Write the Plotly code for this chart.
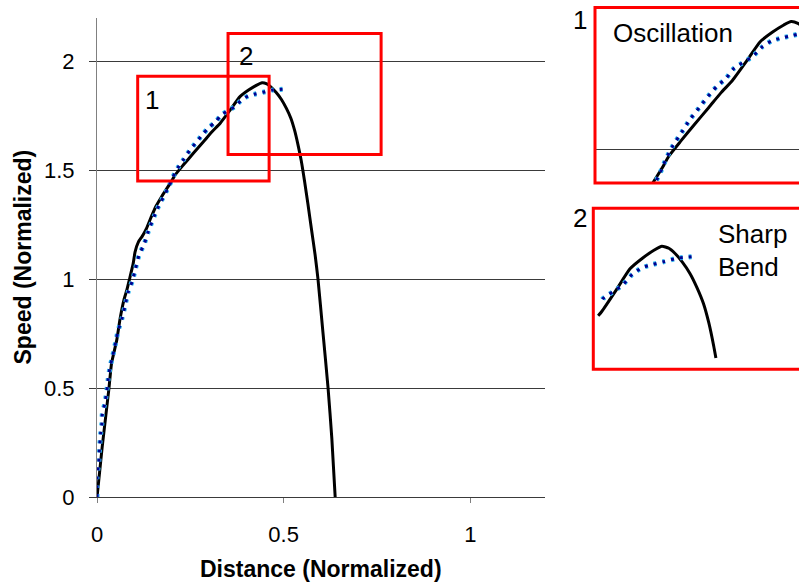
import plotly.graph_objects as go

# ---- data -----------------------------------------------------------------
# measured speed profile (solid black)
dist_measured = [0.0, 0.014, 0.032, 0.039, 0.053, 0.062, 0.072, 0.080, 0.087, 0.097,
                 0.102, 0.111, 0.121, 0.133, 0.145, 0.158, 0.173, 0.196, 0.209, 0.231,
                 0.258, 0.285, 0.308, 0.330, 0.357, 0.383, 0.406, 0.428, 0.442, 0.455,
                 0.466, 0.480, 0.494, 0.507, 0.519, 0.529, 0.538, 0.547, 0.556, 0.565,
                 0.574, 0.584, 0.592, 0.605, 0.619, 0.629, 0.638]
speed_measured = [0.0, 0.232, 0.500, 0.615, 0.722, 0.821, 0.905, 0.951, 1.000, 1.073,
                  1.126, 1.172, 1.197, 1.235, 1.285, 1.335, 1.379, 1.440, 1.478, 1.524,
                  1.578, 1.631, 1.677, 1.716, 1.777, 1.838, 1.868, 1.891, 1.902, 1.896,
                  1.882, 1.857, 1.825, 1.785, 1.740, 1.685, 1.620, 1.545, 1.450, 1.345,
                  1.235, 1.115, 1.000, 0.760, 0.500, 0.270, 0.0]

# fitted speed profile (blue dotted)
dist_fit = [0.0, 0.0, 0.0, 0.005, 0.006, 0.010, 0.013, 0.014, 0.021, 0.026,
            0.030, 0.035, 0.042, 0.050, 0.057, 0.067, 0.075, 0.083, 0.095, 0.103,
            0.112, 0.127, 0.137, 0.161, 0.193, 0.204, 0.217, 0.233, 0.249, 0.267,
            0.284, 0.300, 0.318, 0.333, 0.369, 0.387, 0.405, 0.422, 0.445, 0.471, 0.497]
speed_fit = [0.0, 0.050, 0.094, 0.163, 0.205, 0.294, 0.336, 0.379, 0.431, 0.484,
             0.543, 0.599, 0.648, 0.711, 0.767, 0.821, 0.878, 0.939, 0.994, 1.049,
             1.107, 1.165, 1.218, 1.321, 1.428, 1.471, 1.512, 1.552, 1.593, 1.631,
             1.667, 1.697, 1.723, 1.754, 1.792, 1.822, 1.841, 1.849, 1.858, 1.868, 1.872]

x_ticks = [0, 0.5, 1]
y_ticks = [0, 0.5, 1, 1.5, 2]

# highlighted regions on the main chart: (x0, x1, y0, y1)
region_1 = (0.109, 0.461, 1.451, 1.931)
region_2 = (0.351, 0.761, 1.573, 2.128)

# visible window of each magnified panel: (x0, x1, y0, y1)
panel_1_view = (0.068, 0.457, 1.393, 1.946)
panel_2_view = (0.315, 0.696, 1.554, 2.009)
# curve segments shown in panel 2: start distance and lowest speed
panel_2_measured_cut = (0.324, 1.586)
panel_2_fit_cut = (0.332, 1.586)

# ---- layout helpers ---------------------------------------------------------
W, H = 799, 582
FONT = "Liberation Sans, Arial, sans-serif"
RED = "#FF0000"
GRID = "#3a3a3a"


def px(xp):
    return xp / W


def py(yp):
    return 1 - yp / H


fig = go.Figure()


def add_curves(xa, ya, xs_m, ys_m, xs_f, ys_f):
    fig.add_trace(go.Scatter(x=xs_m, y=ys_m, mode="lines", xaxis=xa, yaxis=ya,
                             line=dict(color="black", width=3, shape="spline", smoothing=0.5),
                             showlegend=False, hoverinfo="skip"))
    fig.add_trace(go.Scatter(x=xs_f, y=ys_f, mode="lines", xaxis=xa, yaxis=ya,
                             line=dict(color="#2EB8F0", width=5, dash="3px,6px",
                                       shape="spline", smoothing=0.6),
                             showlegend=False, hoverinfo="skip"))
    fig.add_trace(go.Scatter(x=xs_f, y=ys_f, mode="lines", xaxis=xa, yaxis=ya,
                             line=dict(color="#000090", width=3, dash="3px,6px",
                                       shape="spline", smoothing=0.6),
                             showlegend=False, hoverinfo="skip"))


def clip_segment(xs, ys, x_min, y_min):
    """Keep the part of a polyline with x >= x_min and y >= y_min,
    adding interpolated end points where it crosses the limits."""
    def inside(a, b):
        return a >= x_min and b >= y_min

    out_x, out_y = [], []
    for i in range(len(xs)):
        a, b = xs[i], ys[i]
        if i > 0:
            pa, pb = xs[i - 1], ys[i - 1]
            if inside(pa, pb) != inside(a, b):
                # crossing point on whichever limit is involved
                if (pa < x_min) != (a < x_min):
                    t = (x_min - pa) / (a - pa)
                else:
                    t = (y_min - pb) / (b - pb)
                out_x.append(pa + t * (a - pa))
                out_y.append(pb + t * (b - pb))
        if inside(a, b):
            out_x.append(a)
            out_y.append(b)
    return out_x, out_y


# main chart
add_curves("x", "y", dist_measured, speed_measured, dist_fit, speed_fit)

# panel 1: oscillation (axis range does the cropping)
add_curves("x2", "y2", dist_measured, speed_measured, dist_fit, speed_fit)

# panel 2: sharp bend
m2x, m2y = clip_segment(dist_measured, speed_measured, *panel_2_measured_cut)
f2x, f2y = clip_segment(dist_fit, speed_fit, *panel_2_fit_cut)
add_curves("x3", "y3", m2x, m2y, f2x, f2y)

# ---- axes ---------------------------------------------------------------------
main_x_dom = [px(97), px(545)]
main_y_dom = [py(497.3), py(17.7)]
p1_x_dom = [px(595), 1.0]
p1_y_dom = [py(183), py(7.5)]
p2_x_dom = [px(593.3), 1.0]
p2_y_dom = [py(369.3), py(208.3)]

tickfont = dict(family=FONT, size=22, color="black")

fig.update_layout(
    width=W, height=H,
    margin=dict(l=0, r=0, t=0, b=0, pad=0, autoexpand=False),
    paper_bgcolor="white", plot_bgcolor="white",
    xaxis=dict(domain=main_x_dom, range=[0, 1.2], tickvals=x_ticks, ticktext=["0", "0.5", "1"],
               showgrid=False, zeroline=False, showline=True, linecolor=GRID, linewidth=1,
               ticks="outside", ticklen=5, tickcolor="#808080", tickfont=tickfont,
               ticklabelstandoff=12, anchor="y", automargin=False),
    yaxis=dict(domain=main_y_dom, range=[0, 2.2], tickvals=y_ticks,
               ticktext=["0", "0.5", "1", "1.5", "2"],
               showgrid=True, gridcolor=GRID, gridwidth=1, zeroline=False,
               showline=True, linecolor="#808080", linewidth=1,
               ticks="outside", ticklen=7, tickcolor=GRID, tickfont=tickfont,
               ticklabelstandoff=10, anchor="x", automargin=False),
    xaxis2=dict(domain=p1_x_dom, range=list(panel_1_view[:2]), visible=False, anchor="y2",
                automargin=False),
    yaxis2=dict(domain=p1_y_dom, range=list(panel_1_view[2:]), tickvals=[1.5],
                showgrid=True, gridcolor=GRID, gridwidth=1, zeroline=False,
                showticklabels=False, ticks="", showline=False, anchor="x2", automargin=False),
    xaxis3=dict(domain=p2_x_dom, range=list(panel_2_view[:2]), visible=False, anchor="y3",
                automargin=False),
    yaxis3=dict(domain=p2_y_dom, range=list(panel_2_view[2:]), visible=False, anchor="x3",
                automargin=False),
)

# ---- region boxes -------------------------------------------------------------
shapes = []
for (x0, x1, y0, y1) in (region_1, region_2):
    shapes.append(dict(type="rect", xref="x", yref="y", x0=x0, x1=x1, y0=y0, y1=y1,
                       line=dict(color=RED, width=3)))
shapes.append(dict(type="rect", xref="paper", yref="paper",
                   x0=p1_x_dom[0], x1=1.05, y0=p1_y_dom[0], y1=p1_y_dom[1],
                   line=dict(color=RED, width=3)))
shapes.append(dict(type="rect", xref="paper", yref="paper",
                   x0=p2_x_dom[0], x1=1.05, y0=p2_y_dom[0], y1=p2_y_dom[1],
                   line=dict(color=RED, width=3)))
fig.update_layout(shapes=shapes)

# ---- text ---------------------------------------------------------------------
label_font = dict(family=FONT, size=26, color="black")
title_font = dict(family=FONT, size=23, color="black")


def note(text, x, y, font, xanchor="center", yanchor="middle", angle=0):
    fig.add_annotation(text=text, x=px(x), y=py(y), xref="paper", yref="paper",
                       showarrow=False, font=font, xanchor=xanchor, yanchor=yanchor,
                       textangle=angle, borderpad=0)


note("1", 152, 100, label_font)
note("2", 245.5, 56.5, label_font)
note("1", 580, 20, label_font)
note("2", 580, 217.5, label_font)
note("Oscillation", 612, 33, label_font, xanchor="left")
note("Sharp", 717, 234, label_font, xanchor="left")
note("Bend", 717, 267, label_font, xanchor="left")
note("<b>Distance (Normalized)</b>", 320.5, 569, title_font)
note("<b>Speed (Normalized)</b>", 22, 257.5, title_font, angle=-90)

fig.write_html("out.html")
